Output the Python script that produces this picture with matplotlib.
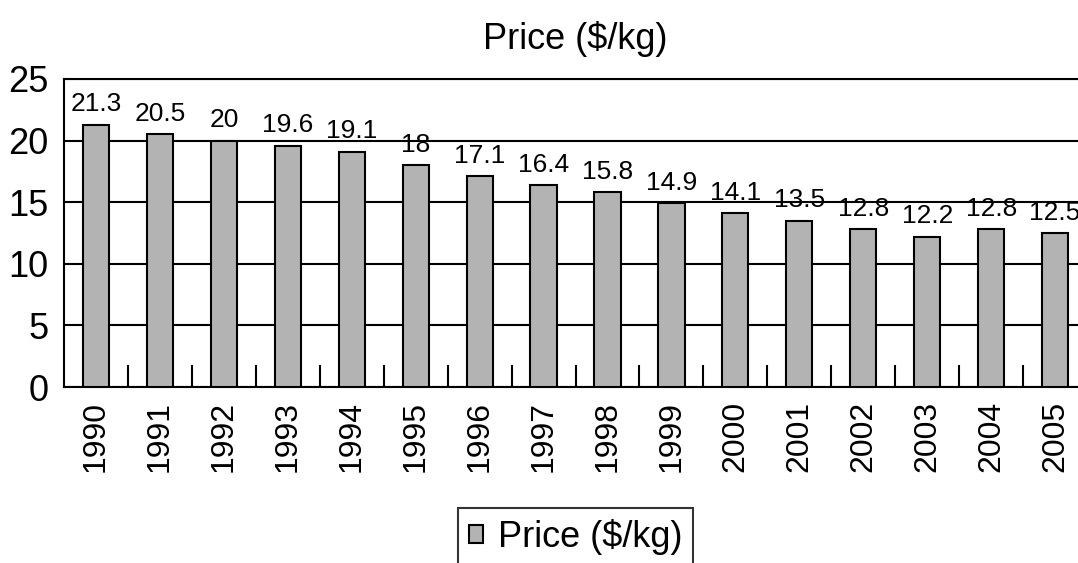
import matplotlib
matplotlib.use("Agg")
import matplotlib.pyplot as plt
import numpy as np

plt.rcParams["font.family"] = ["Liberation Sans", "DejaVu Sans"]

# =====================
# Data
# =====================

years = ["1990", "1991", "1992", "1993", "1994", "1995", "1996", "1997",
         "1998", "1999", "2000", "2001", "2002", "2003", "2004", "2005"]
price = [21.3, 20.5, 20, 19.6, 19.1, 18, 17.1, 16.4,
         15.8, 14.9, 14.1, 13.5, 12.8, 12.2, 12.8, 12.5]
price_labels = ["21.3", "20.5", "20", "19.6", "19.1", "18", "17.1", "16.4",
                "15.8", "14.9", "14.1", "13.5", "12.8", "12.2", "12.8", "12.5"]

# =====================
# Figure
# =====================

fig = plt.figure(figsize=(10.78, 5.63), dpi=100)
ax = fig.add_axes([0.0594, 0.3126, 0.949, 0.5471])

x = np.arange(len(years))
bars = ax.bar(x, price, width=0.41, color="#b3b3b3", edgecolor="black",
              linewidth=1.5, label="Price ($/kg)", zorder=3)

for xi, yi, txt in zip(x, price, price_labels):
    ax.annotate(txt, (xi, yi), xytext=(0, 6), textcoords="offset points",
                ha="center", va="bottom", fontsize=19, color="black", zorder=4)

ax.set_xlim(-0.5, len(years) - 0.5)
ax.set_ylim(0, 25)
ax.set_yticks([0, 5, 10, 15, 20, 25])
ax.yaxis.grid(True, color="black", linewidth=1.5)
ax.set_axisbelow(True)

ax.set_xticks(x)
ax.set_xticklabels(years, rotation=90, fontsize=23)
ax.set_xticks(x[:-1] + 0.5, minor=True)
ax.tick_params(axis="x", which="major", length=0, pad=10)
ax.tick_params(axis="x", which="minor", direction="in", length=16, width=1.5)
ax.tick_params(axis="y", length=0, pad=11, labelsize=26)

for side in ["left", "bottom", "top"]:
    ax.spines[side].set_linewidth(1.5)
ax.spines["right"].set_visible(False)

fig.text(0.534, 0.93, "Price ($/kg)", ha="center", va="center", fontsize=26)

leg = fig.legend(handles=[bars], loc="upper center",
                 bbox_to_anchor=(0.534, 0.0977), fontsize=26, frameon=True,
                 fancybox=False, edgecolor="black", handlelength=0.4,
                 handleheight=0.4, handletextpad=0.4, borderpad=0.3,
                 borderaxespad=0)
leg.get_frame().set_linewidth(1.5)

plt.savefig("out.png", dpi=100)
plt.close()
